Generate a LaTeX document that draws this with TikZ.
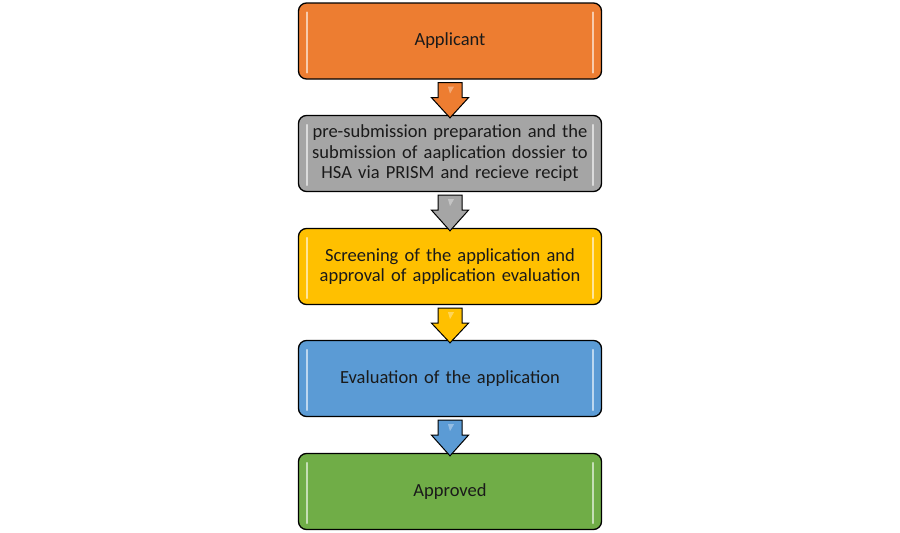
\documentclass[tikz,border=0pt]{standalone}
\usepackage{fontspec}
\setmainfont{Carlito}
\usetikzlibrary{calc}
\definecolor{cOrange}{HTML}{ED7D31}
\definecolor{cGray}{HTML}{A5A5A5}
\definecolor{cYellow}{HTML}{FFC000}
\definecolor{cBlue}{HTML}{5B9BD5}
\definecolor{cGreen}{HTML}{70AD47}
\definecolor{cText}{HTML}{1A1A1A}
\tikzset{
  x=1pt,y=1pt,
  stagebox/.style={draw=black, line width=1.3pt, rounded corners=8pt,
    minimum width=303pt, minimum height=76pt, inner sep=4pt,
    text width=290pt, align=center, text=cText,
    font=\fontsize{18.5}{20.5}\selectfont},
  gloss/.style={white, line width=2pt, opacity=0.6, line cap=round},
  blockarrow/.style={draw=black, line width=1pt, line join=miter},
}
\newcommand{\glossy}[1]{%
  \draw[gloss] ($(#1.north west)+(9,-10)$) -- ($(#1.south west)+(9,7)$);
  \draw[gloss] ($(#1.north east)+(-9,-10)$) -- ($(#1.south east)+(-9,7)$);
}
\newcommand{\flowarrow}[3]{%
  \draw[blockarrow, fill=#3]
    ($(#1.south)+(-12,-3)$) -- ($(#1.south)+(12,-3)$) --
    ($(#1.south)+(12,-18)$) -- ($(#1.south)+(18.5,-18)$) --
    ($(#2.north)+(0,-3)$) --
    ($(#1.south)+(-18.5,-18)$) -- ($(#1.south)+(-12,-18)$) -- cycle;
  \fill[white, opacity=0.35] ($(#1.south)+(-2,-7)$) -- ($(#1.south)+(4,-7)$) -- ($(#1.south)+(0,-14)$) -- cycle;
}
\begin{document}
\begin{tikzpicture}
\useasboundingbox (0,0) rectangle (900,-533);
\node[stagebox, fill=cOrange] (s1) at (450,-41) {Applicant};
\node[stagebox, fill=cGray] (s2) at (450,-153.5) {pre-submission preparation and the submission of aaplication dossier to HSA via PRISM and recieve recipt};
\node[stagebox, fill=cYellow] (s3) at (450,-266.5) {Screening of the application and approval of application evaluation};
\node[stagebox, fill=cBlue] (s4) at (450,-378.5) {Evaluation of the application};
\node[stagebox, fill=cGreen] (s5) at (450,-491.5) {Approved};
\glossy{s1}\glossy{s2}\glossy{s3}\glossy{s4}\glossy{s5}
\flowarrow{s1}{s2}{cOrange}
\flowarrow{s2}{s3}{cGray}
\flowarrow{s3}{s4}{cYellow}
\flowarrow{s4}{s5}{cBlue}
\end{tikzpicture}
\end{document}
